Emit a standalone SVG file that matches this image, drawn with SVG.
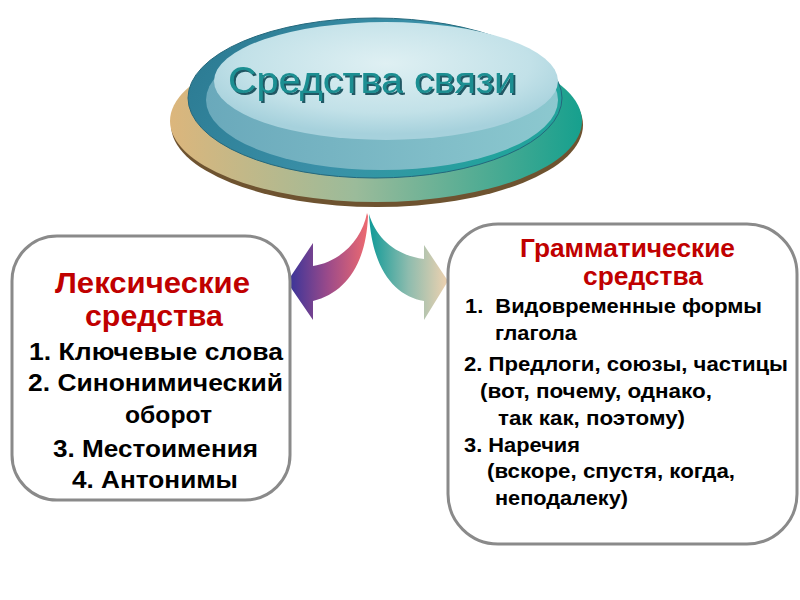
<svg xmlns="http://www.w3.org/2000/svg" width="800" height="600" viewBox="0 0 800 600">
<defs>
<linearGradient id="backG" x1="0" y1="0" x2="1" y2="0">
<stop offset="0" stop-color="#dcb67c"/><stop offset="0.45" stop-color="#9bbb9a"/><stop offset="1" stop-color="#16a08e"/>
</linearGradient>
<linearGradient id="rimG" x1="0" y1="0" x2="1" y2="0.3">
<stop offset="0" stop-color="#2a7890"/><stop offset="0.6" stop-color="#3a90a8"/><stop offset="1" stop-color="#22a39c"/>
</linearGradient>
<linearGradient id="bandG" x1="0" y1="0" x2="1" y2="0">
<stop offset="0" stop-color="#6aa9bb"/><stop offset="1" stop-color="#8cc8cf"/>
</linearGradient>
<radialGradient id="innerG" cx="0.5" cy="0.35" r="0.6">
<stop offset="0" stop-color="#dff0f3"/><stop offset="0.7" stop-color="#c2e1e8"/><stop offset="1" stop-color="#a6d1dc"/>
</radialGradient>
<linearGradient id="leftArr" x1="0" y1="0" x2="1" y2="0">
<stop offset="0" stop-color="#33339a"/><stop offset="0.5" stop-color="#9a4a8a"/><stop offset="1" stop-color="#ee6a70"/>
</linearGradient>
<linearGradient id="rightArr" x1="0" y1="0" x2="1" y2="0">
<stop offset="0" stop-color="#0f9a98"/><stop offset="0.5" stop-color="#8ebcae"/><stop offset="1" stop-color="#f0d2b0"/>
</linearGradient>
<filter id="sh" x="-10%" y="-20%" width="120%" height="150%">
<feDropShadow dx="2" dy="2" stdDeviation="0.6" flood-color="#0c4a55" flood-opacity="0.9"/>
</filter>
<style>
.box{fill:#ffffff;stroke:#8a8a8a;stroke-width:3}
.t{font-family:"Liberation Sans",Arial,sans-serif;font-weight:bold}
.red{fill:#c00000}
.blk{fill:#000000}
.title{font-family:"Liberation Sans",Arial,sans-serif;font-size:36px;fill:#1b8f92}
</style>
</defs>

<g id="title-node">
<ellipse cx="377" cy="125" rx="206" ry="82" fill="#6e5330"/>
<ellipse cx="376" cy="121" rx="206" ry="81" fill="url(#backG)"/>
<ellipse cx="375" cy="98" rx="187" ry="80" fill="url(#rimG)" stroke="#24687c" stroke-width="1"/>
<ellipse cx="382" cy="100" rx="176" ry="70" fill="url(#bandG)"/>
<ellipse cx="386" cy="81" rx="172" ry="59" fill="url(#innerG)"/>
<text class="title" x="228" y="93" textLength="288" lengthAdjust="spacingAndGlyphs" filter="url(#sh)">Средства связи</text>
</g>

<g id="connectors">
<path d="M 367 213 C 362 240, 340 262, 313 266 L 313 243 L 287 282 L 313 320 L 313 301 C 345 293, 366 265, 368 216 Z" fill="url(#leftArr)"/>
<path d="M 369 214 C 376 238, 395 255, 424 259 L 424 245 L 448 281 L 424 320 L 424 301 C 395 296, 372 270, 369 214 Z" fill="url(#rightArr)"/>
</g>

<g id="lexical-node">
<rect class="box" x="12" y="236" width="278" height="264" rx="45" ry="45"/>
<g class="t red" font-size="29" lengthAdjust="spacingAndGlyphs">
<text x="55" y="293" textLength="195" lengthAdjust="spacingAndGlyphs">Лексические</text>
<text x="85" y="326" textLength="138" lengthAdjust="spacingAndGlyphs">средства</text>
</g>
<g class="t blk" font-size="23">
<text x="29" y="360" textLength="254" lengthAdjust="spacingAndGlyphs">1. Ключевые слова</text>
<text x="28" y="391" textLength="255" lengthAdjust="spacingAndGlyphs">2. Синонимический</text>
<text x="125" y="423" textLength="87" lengthAdjust="spacingAndGlyphs">оборот</text>
<text x="53" y="457" textLength="205" lengthAdjust="spacingAndGlyphs">3. Местоимения</text>
<text x="72" y="488" textLength="166" lengthAdjust="spacingAndGlyphs">4. Антонимы</text>
</g>
</g>

<g id="grammar-node">
<rect class="box" x="448" y="224" width="349" height="320" rx="50" ry="50"/>
<g class="t red" font-size="25">
<text x="520" y="257" textLength="215" lengthAdjust="spacingAndGlyphs">Грамматические</text>
<text x="583" y="285" textLength="120" lengthAdjust="spacingAndGlyphs">средства</text>
</g>
<g class="t blk" font-size="19.5">
<text x="465" y="313" textLength="297" lengthAdjust="spacingAndGlyphs" xml:space="preserve">1.  Видовременные формы</text>
<text x="495" y="340" textLength="82" lengthAdjust="spacingAndGlyphs">глагола</text>
<text x="464" y="371" textLength="324" lengthAdjust="spacingAndGlyphs">2. Предлоги, союзы, частицы</text>
<text x="480" y="398" textLength="232" lengthAdjust="spacingAndGlyphs">(вот, почему, однако,</text>
<text x="498" y="425" textLength="187" lengthAdjust="spacingAndGlyphs">так как, поэтому)</text>
<text x="464" y="452" textLength="116" lengthAdjust="spacingAndGlyphs">3. Наречия</text>
<text x="487" y="478" textLength="248" lengthAdjust="spacingAndGlyphs">(вскоре, спустя, когда,</text>
<text x="495" y="505" textLength="133" lengthAdjust="spacingAndGlyphs">неподалеку)</text>
</g>
</g>
</svg>
